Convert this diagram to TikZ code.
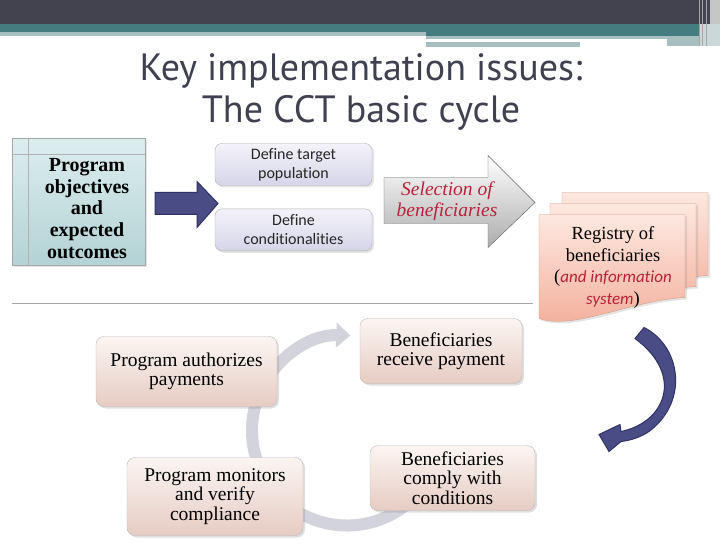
\documentclass[tikz,border=0pt]{standalone}
\usepackage{fontspec}
\setmainfont{Liberation Serif}
\newfontfamily\titlefont{PT Sans}
\newfontfamily\notefont[Ligatures=NoCommon]{Carlito}
\usepackage{xcolor}
\definecolor{band}{HTML}{42434F}
\definecolor{bandteal}{HTML}{457C80}
\definecolor{lightteal}{HTML}{A7BFC1}
\definecolor{titlegray}{HTML}{3F4050}
\definecolor{goaltop}{HTML}{DCEDEE}
\definecolor{goalbot}{HTML}{B3D2D5}
\definecolor{lavtop}{HTML}{F4F3FA}
\definecolor{lavbot}{HTML}{D5D5E9}
\definecolor{pinktop}{HTML}{FBF5F2}
\definecolor{pinkbot}{HTML}{E6CCC3}
\definecolor{navy}{HTML}{4A4C86}
\definecolor{navyline}{HTML}{2F3163}
\definecolor{selred}{HTML}{B8213A}
\definecolor{regtop}{HTML}{FDE8E0}
\definecolor{regbot}{HTML}{F3AD99}
\definecolor{cyclegray}{HTML}{D3D3DB}
\usepackage{tikz}
\usetikzlibrary{arrows.meta,positioning,calc,shadows}

\begin{document}
\begin{tikzpicture}[
  x=1pt, y=-1pt,
  title/.style={font=\titlefont\fontsize{38}{42}\selectfont, text=titlegray, anchor=base},
  goalbox/.style={draw=gray!70, top color=goaltop, bottom color=goalbot,
    minimum width=133pt, minimum height=127pt, inner sep=0pt,
    drop shadow={opacity=0.2, shadow xshift=2pt, shadow yshift=-2pt}},
  definebox/.style={draw=gray!60, rounded corners=7pt, top color=lavtop, bottom color=lavbot,
    minimum width=157pt, minimum height=42pt, align=center, inner sep=2pt,
    font=\notefont\fontsize{16}{19}\selectfont, text=black!85,
    drop shadow={opacity=0.2, shadow xshift=2pt, shadow yshift=-2pt}},
  stagebox/.style={draw=gray!55, rounded corners=8pt, top color=pinktop, bottom color=pinkbot,
    align=center, inner sep=2pt, font=\fontsize{19.5}{19.5}\selectfont,
    drop shadow={opacity=0.25, shadow xshift=2pt, shadow yshift=-2pt}},
  docpage/.style={draw=regbot!70!gray, top color=regtop, bottom color=regbot,
    drop shadow={opacity=0.2, shadow xshift=2pt, shadow yshift=-2pt}}
]
% page and header bands
\fill[white] (0,0) rectangle (720,540);
\fill[band] (0,0) rectangle (720,24);
\fill[bandteal] (0,24) rectangle (720,32);
\fill[lightteal] (0,32) rectangle (426,36);
\fill[bandteal] (426,32) rectangle (720,36);
\fill[lightteal] (426,36) rectangle (720,39);
\fill[lightteal] (426,42) rectangle (580,47);
\fill[lightteal] (667,39) rectangle (707,46);
\fill[gray!45] (710,0) rectangle (720,24);
\fill[lightteal!60] (699,24) rectangle (720,46);
\foreach \xs in {699,702,706}
  \draw[gray!70, line width=1pt] (\xs,0) -- (\xs,46);

% title
\node[title] (title) at (361,80) {Key implementation issues:};
\node[title] (subtitle) at (361,122) {The CCT basic cycle};

% objectives box
\node[goalbox] (goal) at (78.5,201.5) {};
\draw[gray!60] (28,138) -- (28,265);
\draw[gray!60] (12,154) -- (145,154);
\node[align=center, font=\bfseries\fontsize{20}{21.8}\selectfont] (goaltext) at (87,208)
  {Program\\objectives\\and\\expected\\outcomes};

% push arrow
\filldraw[fill=navy, draw=navyline, line width=1pt]
  (155,192) -- (197,192) -- (197,181) -- (218,203) -- (197,227) -- (197,214) -- (155,214) -- cycle;

% define boxes
\node[definebox] (target) at (293.5,164) {Define target\\population};
\node[definebox, below=23pt of target] (cond) {Define\\conditionalities};

% selection arrow
\shade[top color=white, bottom color=gray!65, draw=gray!75!black]
  (384,177) -- (488,177) -- (488,155) -- (535,202) -- (488,247) -- (488,223) -- (384,223) -- cycle;
\node[align=center, font=\itshape\fontsize{19.5}{21}\selectfont, text=selred] (select) at (447,201)
  {Selection of\\beneficiaries};

% registry pages
\foreach \dx/\dy in {23/-22, 11/-11, 0/0}
  \shade[docpage, xshift=\dx pt, yshift=-\dy pt]
    (539,214) -- (685,214) -- (685,297) .. controls (630,300) and (575,330) .. (539,318) -- cycle;
\node[align=center, font=\fontsize{18.5}{21.5}\selectfont] (registry) at (613,267)
  {Registry of\\beneficiaries\\({\notefont\itshape\color{selred}\fontsize{17}{21.5}\selectfont and information}\\{\notefont\itshape\color{selred}\fontsize{17}{21.5}\selectfont system})};

% separator
\draw[gray!70, line width=0.8pt] (12,303) -- (533,303);

% cycle arrow
\coordinate (hub) at (347,430);
\draw[cyclegray, line width=12pt, -{Triangle[length=14pt, width=24pt]}]
  ($(hub)+(20:95)$) arc[start angle=20, end angle=272, radius=95];

% cycle stages
\node[stagebox, minimum width=181pt, minimum height=70pt] (auth) at (186.5,371) {Program authorizes\\payments};
\node[stagebox, minimum width=162pt, minimum height=65pt] (recv) at (441,350.5) {Beneficiaries\\receive payment};
\node[stagebox, minimum width=176pt, minimum height=78pt] (monitor) at (215,496) {Program monitors\\and verify\\compliance};
\node[stagebox, minimum width=165pt, minimum height=65pt] (comply) at (452.5,477.5) {Beneficiaries\\comply with\\conditions};

% return arrow
\filldraw[fill=navy, draw=navyline, line width=1pt]
  (644,327) .. controls (680,345) and (690,400) .. (649,431)
  .. controls (640,437) and (630,440) .. (621,441) -- (609,451) -- (599,434) -- (620,424) -- (621,431)
  .. controls (665,422) and (685,375) .. (635,338) -- cycle;
\end{tikzpicture}
\end{document}
